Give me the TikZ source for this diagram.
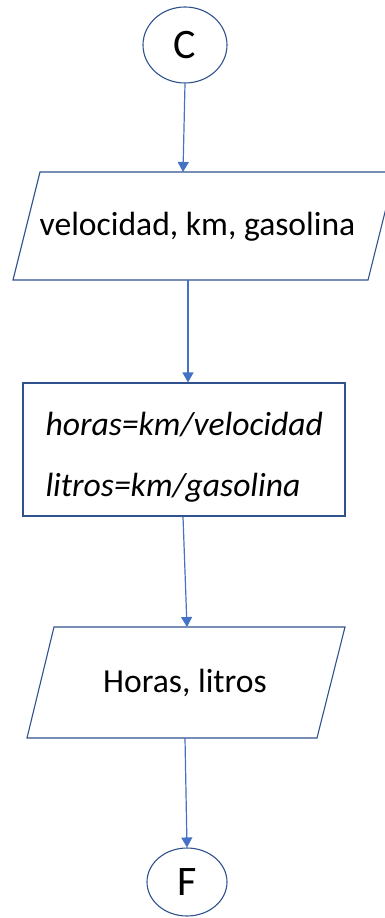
\documentclass[tikz,border=0pt]{standalone}
\usepackage{fontspec}
\setmainfont{Carlito}
\usetikzlibrary{arrows.meta,shapes.geometric}
\definecolor{edgeblue}{HTML}{2F528F}
\definecolor{arrowblue}{HTML}{4472C4}
\tikzset{
  shapeline/.style={draw=edgeblue, line width=1.1pt},
  conn/.style={draw=arrowblue, line width=1.2pt, -{Triangle[length=10pt,width=11pt]}},
  term/.style={ellipse, shapeline, fill=white, inner sep=0pt},
  txt/.style={font=\fontsize{33.6}{38}\selectfont, text=black},
  itxt/.style={font=\fontsize{33.6}{38}\selectfont\itshape, text=black, anchor=west},
  letter/.style={font=\fontsize{42}{46}\selectfont, text=black},
}
\begin{document}
\begin{tikzpicture}[x=1pt,y=-1pt]
\useasboundingbox (0,0) rectangle (385,918);
\begin{scope}
\clip (0,0) rectangle (385,918);
% terminal C
\node[term, minimum width=84pt, minimum height=76pt] (C) at (185,45) {};
\node[letter] (Ct) at (185,45) {C};
% input parallelogram
\coordinate (p1top) at (183,172);
\coordinate (p1bot) at (188,280);
\draw[shapeline] (40,172) -- (395,172) -- (368,280) -- (13,280) -- cycle;
\node[txt] (p1) at (197.5,227) {velocidad, km, gasolina};
% process box
\node[shapeline, minimum width=322pt, minimum height=133pt, inner sep=0pt] (proc) at (184,449.5) {};
\node[itxt] (l1) at (42,425) {horas=km/velocidad};
\node[itxt] (l2) at (42,488) {litros=km/gasolina};
% output parallelogram
\coordinate (p2top) at (187,627);
\coordinate (p2bot) at (185,738);
\draw[shapeline] (54,627) -- (345,627) -- (317,738) -- (27,738) -- cycle;
\node[txt] (p2) at (185,683) {Horas, litros};
% terminal F
\node[term, minimum width=80pt, minimum height=68pt] (F) at (187,882) {};
\node[letter] (Ft) at (187,882) {F};
% connectors
\draw[conn] (C.south) -- (p1top);
\draw[conn] (p1bot) -- (proc.north -| p1bot);
\draw[conn] (proc.south -| 183,0) -- (p2top);
\draw[conn] (p2bot) -- (F.north);
\end{scope}
\end{tikzpicture}
\end{document}
